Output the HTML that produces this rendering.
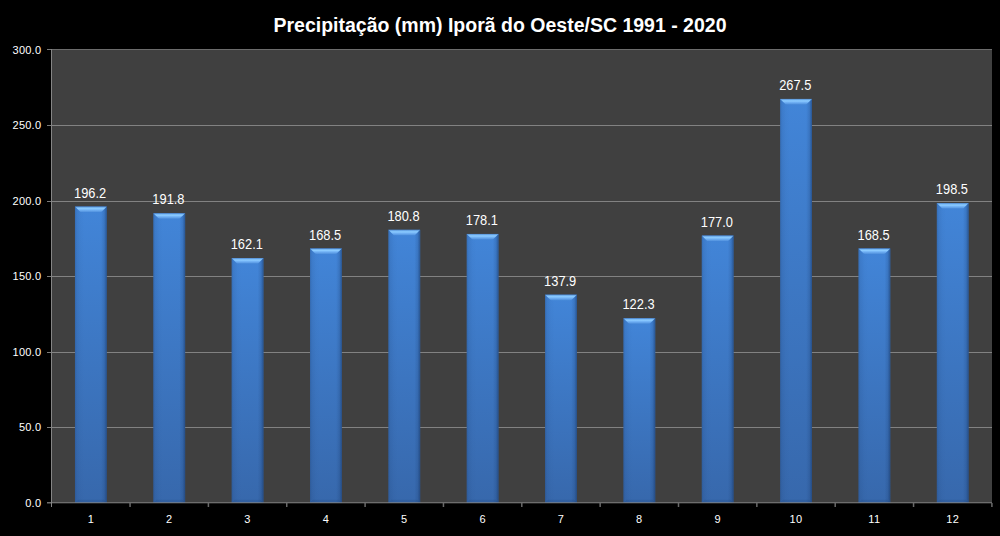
<!DOCTYPE html>
<html><head><meta charset="utf-8">
<style>
html,body{margin:0;padding:0;background:#000;}
body{width:1000px;height:536px;overflow:hidden;position:relative;font-family:"Liberation Sans",sans-serif;}
svg{position:absolute;left:0;top:0;}
text{font-family:"Liberation Sans",sans-serif;fill:#fff;}
</style></head><body>
<svg width="1000" height="536" viewBox="0 0 1000 536">
<defs>
<linearGradient id="gv" x1="0" y1="0" x2="0" y2="1">
<stop offset="0" stop-color="#4285d8"/>
<stop offset="1" stop-color="#3768ac"/>
</linearGradient>
<linearGradient id="gh" x1="0" y1="0" x2="1" y2="0">
<stop offset="0" stop-color="#183868" stop-opacity="0.3"/>
<stop offset="0.06" stop-color="#183868" stop-opacity="0.12"/>
<stop offset="0.18" stop-color="#183868" stop-opacity="0.03"/>
<stop offset="0.3" stop-color="#183868" stop-opacity="0"/>
<stop offset="0.82" stop-color="#183868" stop-opacity="0"/>
<stop offset="0.92" stop-color="#183868" stop-opacity="0.18"/>
<stop offset="1" stop-color="#183868" stop-opacity="0.6"/>
</linearGradient>
<linearGradient id="gt" x1="0" y1="0" x2="0" y2="1">
<stop offset="0" stop-color="#4f86cc"/>
<stop offset="0.2" stop-color="#78baf6"/>
<stop offset="0.38" stop-color="#8ccbff"/>
<stop offset="0.6" stop-color="#74b4f6"/>
<stop offset="1" stop-color="#4f8fdc"/>
</linearGradient>
</defs>
<rect x="51" y="49" width="941" height="454" fill="#404040"/>

<rect x="51" y="49" width="941" height="1" fill="#6c6c6c"/>
<rect x="51" y="125" width="941" height="1" fill="#828282"/>
<rect x="51" y="201" width="941" height="1" fill="#828282"/>
<rect x="51" y="276" width="941" height="1" fill="#828282"/>
<rect x="51" y="352" width="941" height="1" fill="#828282"/>
<rect x="51" y="427" width="941" height="1" fill="#828282"/>
<rect x="47" y="49" width="4" height="1" fill="#7a7a7a"/>
<rect x="47" y="125" width="4" height="1" fill="#7a7a7a"/>
<rect x="47" y="201" width="4" height="1" fill="#7a7a7a"/>
<rect x="47" y="276" width="4" height="1" fill="#7a7a7a"/>
<rect x="47" y="352" width="4" height="1" fill="#7a7a7a"/>
<rect x="47" y="427" width="4" height="1" fill="#7a7a7a"/>
<rect x="47" y="502" width="4" height="1.5" fill="#6e6e6e"/>
<g transform="translate(74.97,206.58)">
<rect width="31.8" height="296.22" fill="url(#gv)"/>
<rect width="31.8" height="296.22" fill="url(#gh)"/>
<path d="M0,0 H31.8 L27.200000000000003,4.6 Q26.4,5.5 25.0,5.5 H6.8 Q5.4,5.5 4.6,4.6 Z" fill="url(#gt)"/>
<polygon points="0,296.22 31.8,296.22 28.8,293.22 3,293.22" fill="#102850" fill-opacity="0.12"/>
</g>
<text transform="translate(90.08,197.68) scale(0.88,1)" font-size="14.6" text-anchor="middle">196.2</text>
<g transform="translate(153.32,213.22)">
<rect width="31.8" height="289.58" fill="url(#gv)"/>
<rect width="31.8" height="289.58" fill="url(#gh)"/>
<path d="M0,0 H31.8 L27.200000000000003,4.6 Q26.4,5.5 25.0,5.5 H6.8 Q5.4,5.5 4.6,4.6 Z" fill="url(#gt)"/>
<polygon points="0,289.58 31.8,289.58 28.8,286.58 3,286.58" fill="#102850" fill-opacity="0.12"/>
</g>
<text transform="translate(168.42,204.32) scale(0.88,1)" font-size="14.6" text-anchor="middle">191.8</text>
<g transform="translate(231.67,258.08)">
<rect width="31.8" height="244.72" fill="url(#gv)"/>
<rect width="31.8" height="244.72" fill="url(#gh)"/>
<path d="M0,0 H31.8 L27.200000000000003,4.6 Q26.4,5.5 25.0,5.5 H6.8 Q5.4,5.5 4.6,4.6 Z" fill="url(#gt)"/>
<polygon points="0,244.72 31.8,244.72 28.8,241.72 3,241.72" fill="#102850" fill-opacity="0.12"/>
</g>
<text transform="translate(246.77,249.18) scale(0.88,1)" font-size="14.6" text-anchor="middle">162.1</text>
<g transform="translate(310.02,248.41)">
<rect width="31.8" height="254.39" fill="url(#gv)"/>
<rect width="31.8" height="254.39" fill="url(#gh)"/>
<path d="M0,0 H31.8 L27.200000000000003,4.6 Q26.4,5.5 25.0,5.5 H6.8 Q5.4,5.5 4.6,4.6 Z" fill="url(#gt)"/>
<polygon points="0,254.39 31.8,254.39 28.8,251.39 3,251.39" fill="#102850" fill-opacity="0.12"/>
</g>
<text transform="translate(325.12,239.51) scale(0.88,1)" font-size="14.6" text-anchor="middle">168.5</text>
<g transform="translate(388.38,229.84)">
<rect width="31.8" height="272.96" fill="url(#gv)"/>
<rect width="31.8" height="272.96" fill="url(#gh)"/>
<path d="M0,0 H31.8 L27.200000000000003,4.6 Q26.4,5.5 25.0,5.5 H6.8 Q5.4,5.5 4.6,4.6 Z" fill="url(#gt)"/>
<polygon points="0,272.96 31.8,272.96 28.8,269.96 3,269.96" fill="#102850" fill-opacity="0.12"/>
</g>
<text transform="translate(403.47,220.94) scale(0.88,1)" font-size="14.6" text-anchor="middle">180.8</text>
<g transform="translate(466.72,233.92)">
<rect width="31.8" height="268.88" fill="url(#gv)"/>
<rect width="31.8" height="268.88" fill="url(#gh)"/>
<path d="M0,0 H31.8 L27.200000000000003,4.6 Q26.4,5.5 25.0,5.5 H6.8 Q5.4,5.5 4.6,4.6 Z" fill="url(#gt)"/>
<polygon points="0,268.88 31.8,268.88 28.8,265.88 3,265.88" fill="#102850" fill-opacity="0.12"/>
</g>
<text transform="translate(481.82,225.02) scale(0.88,1)" font-size="14.6" text-anchor="middle">178.1</text>
<g transform="translate(545.08,294.63)">
<rect width="31.8" height="208.17" fill="url(#gv)"/>
<rect width="31.8" height="208.17" fill="url(#gh)"/>
<path d="M0,0 H31.8 L27.200000000000003,4.6 Q26.4,5.5 25.0,5.5 H6.8 Q5.4,5.5 4.6,4.6 Z" fill="url(#gt)"/>
<polygon points="0,208.17 31.8,208.17 28.8,205.17 3,205.17" fill="#102850" fill-opacity="0.12"/>
</g>
<text transform="translate(560.18,285.73) scale(0.88,1)" font-size="14.6" text-anchor="middle">137.9</text>
<g transform="translate(623.43,318.19)">
<rect width="31.8" height="184.61" fill="url(#gv)"/>
<rect width="31.8" height="184.61" fill="url(#gh)"/>
<path d="M0,0 H31.8 L27.200000000000003,4.6 Q26.4,5.5 25.0,5.5 H6.8 Q5.4,5.5 4.6,4.6 Z" fill="url(#gt)"/>
<polygon points="0,184.61 31.8,184.61 28.8,181.61 3,181.61" fill="#102850" fill-opacity="0.12"/>
</g>
<text transform="translate(638.53,309.29) scale(0.88,1)" font-size="14.6" text-anchor="middle">122.3</text>
<g transform="translate(701.77,235.58)">
<rect width="31.8" height="267.22" fill="url(#gv)"/>
<rect width="31.8" height="267.22" fill="url(#gh)"/>
<path d="M0,0 H31.8 L27.200000000000003,4.6 Q26.4,5.5 25.0,5.5 H6.8 Q5.4,5.5 4.6,4.6 Z" fill="url(#gt)"/>
<polygon points="0,267.22 31.8,267.22 28.8,264.22 3,264.22" fill="#102850" fill-opacity="0.12"/>
</g>
<text transform="translate(716.88,226.68) scale(0.88,1)" font-size="14.6" text-anchor="middle">177.0</text>
<g transform="translate(780.12,98.89)">
<rect width="31.8" height="403.91" fill="url(#gv)"/>
<rect width="31.8" height="403.91" fill="url(#gh)"/>
<path d="M0,0 H31.8 L27.200000000000003,4.6 Q26.4,5.5 25.0,5.5 H6.8 Q5.4,5.5 4.6,4.6 Z" fill="url(#gt)"/>
<polygon points="0,403.91 31.8,403.91 28.8,400.91 3,400.91" fill="#102850" fill-opacity="0.12"/>
</g>
<text transform="translate(795.23,89.99) scale(0.88,1)" font-size="14.6" text-anchor="middle">267.5</text>
<g transform="translate(858.48,248.41)">
<rect width="31.8" height="254.39" fill="url(#gv)"/>
<rect width="31.8" height="254.39" fill="url(#gh)"/>
<path d="M0,0 H31.8 L27.200000000000003,4.6 Q26.4,5.5 25.0,5.5 H6.8 Q5.4,5.5 4.6,4.6 Z" fill="url(#gt)"/>
<polygon points="0,254.39 31.8,254.39 28.8,251.39 3,251.39" fill="#102850" fill-opacity="0.12"/>
</g>
<text transform="translate(873.58,239.51) scale(0.88,1)" font-size="14.6" text-anchor="middle">168.5</text>
<g transform="translate(936.83,203.11)">
<rect width="31.8" height="299.69" fill="url(#gv)"/>
<rect width="31.8" height="299.69" fill="url(#gh)"/>
<path d="M0,0 H31.8 L27.200000000000003,4.6 Q26.4,5.5 25.0,5.5 H6.8 Q5.4,5.5 4.6,4.6 Z" fill="url(#gt)"/>
<polygon points="0,299.69 31.8,299.69 28.8,296.69 3,296.69" fill="#102850" fill-opacity="0.12"/>
</g>
<text transform="translate(951.93,194.21) scale(0.88,1)" font-size="14.6" text-anchor="middle">198.5</text>
<rect x="51" y="49" width="1" height="458" fill="#858585"/>
<rect x="51" y="502" width="941" height="1" fill="#8c8c8c" fill-opacity="0.6"/>
<rect x="51" y="503" width="941" height="1" fill="#8c8c8c" fill-opacity="0.25"/>
<rect x="129.30" y="503" width="1.5" height="4" fill="#6a6a6a"/>
<rect x="207.65" y="503" width="1.5" height="4" fill="#6a6a6a"/>
<rect x="286.00" y="503" width="1.5" height="4" fill="#6a6a6a"/>
<rect x="364.35" y="503" width="1.5" height="4" fill="#6a6a6a"/>
<rect x="442.70" y="503" width="1.5" height="4" fill="#6a6a6a"/>
<rect x="521.05" y="503" width="1.5" height="4" fill="#6a6a6a"/>
<rect x="599.40" y="503" width="1.5" height="4" fill="#6a6a6a"/>
<rect x="677.75" y="503" width="1.5" height="4" fill="#6a6a6a"/>
<rect x="756.10" y="503" width="1.5" height="4" fill="#6a6a6a"/>
<rect x="834.45" y="503" width="1.5" height="4" fill="#6a6a6a"/>
<rect x="912.80" y="503" width="1.5" height="4" fill="#6a6a6a"/>
<rect x="991.15" y="503" width="1.5" height="4" fill="#6a6a6a"/>
<text x="41.3" y="506.60" font-size="11" letter-spacing="0.25" text-anchor="end">0.0</text>
<text x="41.3" y="431.09" font-size="11" letter-spacing="0.25" text-anchor="end">50.0</text>
<text x="41.3" y="355.57" font-size="11" letter-spacing="0.25" text-anchor="end">100.0</text>
<text x="41.3" y="280.06" font-size="11" letter-spacing="0.25" text-anchor="end">150.0</text>
<text x="41.3" y="204.54" font-size="11" letter-spacing="0.25" text-anchor="end">200.0</text>
<text x="41.3" y="129.03" font-size="11" letter-spacing="0.25" text-anchor="end">250.0</text>
<text x="41.3" y="53.51" font-size="11" letter-spacing="0.25" text-anchor="end">300.0</text>
<text x="90.88" y="523" font-size="11" letter-spacing="0.3" text-anchor="middle">1</text>
<text x="169.22" y="523" font-size="11" letter-spacing="0.3" text-anchor="middle">2</text>
<text x="247.57" y="523" font-size="11" letter-spacing="0.3" text-anchor="middle">3</text>
<text x="325.92" y="523" font-size="11" letter-spacing="0.3" text-anchor="middle">4</text>
<text x="404.27" y="523" font-size="11" letter-spacing="0.3" text-anchor="middle">5</text>
<text x="482.62" y="523" font-size="11" letter-spacing="0.3" text-anchor="middle">6</text>
<text x="560.98" y="523" font-size="11" letter-spacing="0.3" text-anchor="middle">7</text>
<text x="639.33" y="523" font-size="11" letter-spacing="0.3" text-anchor="middle">8</text>
<text x="717.67" y="523" font-size="11" letter-spacing="0.3" text-anchor="middle">9</text>
<text x="796.02" y="523" font-size="11" letter-spacing="0.3" text-anchor="middle">10</text>
<text x="874.38" y="523" font-size="11" letter-spacing="0.3" text-anchor="middle">11</text>
<text x="952.73" y="523" font-size="11" letter-spacing="0.3" text-anchor="middle">12</text>
<text x="500" y="31.5" font-size="19.5" font-weight="bold" text-anchor="middle">Precipitação (mm) Iporã do Oeste/SC 1991 - 2020</text>
</svg></body></html>
